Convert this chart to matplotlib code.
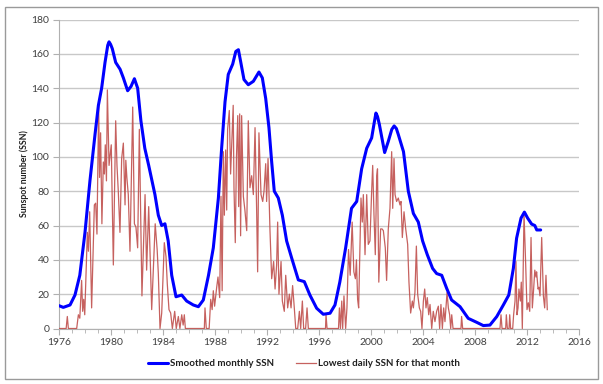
import matplotlib
matplotlib.use("Agg")
import matplotlib.pyplot as plt
from matplotlib.patches import Rectangle
from matplotlib.ticker import MultipleLocator

plt.rcParams['font.family'] = ['Lato', 'DejaVu Sans']

# Smoothed monthly SSN
smooth_years = [1976.0, 1976.33, 1976.85, 1977.23, 1977.6, 1978.0, 1978.38, 1978.77, 1979.03, 1979.28,
                1979.54, 1979.75, 1979.85, 1979.97, 1980.1, 1980.36, 1980.7, 1980.95, 1981.28, 1981.54,
                1981.8, 1982.05,
                1982.3, 1982.6, 1982.9, 1983.38, 1983.64, 1983.9, 1984.15, 1984.4, 1984.67, 1985.0,
                1985.44, 1985.82, 1986.33, 1986.72, 1987.1, 1987.5, 1987.87, 1988.26, 1988.51, 1988.77,
                1989.02, 1989.36, 1989.6, 1989.8, 1989.97, 1990.23, 1990.56, 1990.95, 1991.38, 1991.64,
                1991.9, 1992.15, 1992.36, 1992.56, 1992.87, 1993.18, 1993.51, 1993.9, 1994.41, 1994.87,
                1995.3, 1995.82, 1996.33, 1996.85, 1997.23, 1997.6, 1998.05, 1998.5, 1998.9, 1999.28,
                1999.67, 2000.05, 2000.25, 2000.38, 2000.5, 2000.64, 2001.05, 2001.33, 2001.6, 2001.78,
                2001.95, 2002.1, 2002.5, 2002.87,
                2003.26, 2003.64, 2003.97, 2004.33, 2004.74, 2005.05, 2005.44, 2005.82, 2006.2, 2006.85,
                2007.48, 2008.13, 2008.64, 2009.15, 2009.67, 2010.18, 2010.6, 2010.95, 2011.2, 2011.54,
                2011.8, 2012.05, 2012.36, 2012.6, 2012.75, 2013.05]
smooth_ssn = [13.3, 12.3, 13.7, 19.5, 31, 56, 86, 113, 130, 140,
              155, 165, 167, 165.5, 163, 155, 151, 146, 138.5, 141,
              145.5, 140,
              121, 105, 95, 78, 66, 60, 61, 51, 31, 18.5,
              19.5, 16, 13.7, 12.7, 16.6, 31, 47, 76, 105, 132,
              148, 154, 161.4, 162.4, 155.6, 145, 142, 144, 149.4, 146,
              134, 117, 97, 80, 76, 66, 51, 41, 28.3, 27.3,
              19.5, 11.8, 8.3, 8.9, 13.7, 27, 47, 70, 74, 93,
              105, 111, 120, 125.5, 123.5, 119, 102.5, 109, 116, 118,
              116.5, 113, 103, 80,
              67, 62, 51, 43, 35, 32, 31, 23.4, 16.6, 12.7,
              5.9, 3.6, 1.7, 2, 6.9, 13.7, 19.5, 35, 52.6, 64.3,
              67.8, 64.3, 60.8, 60, 57.4, 57.4]

# Lowest daily SSN for that month
low_years = [1976.0, 1976.55, 1976.64, 1976.72, 1977.36, 1977.49, 1977.6, 1977.74, 1977.82, 1977.9,
             1977.98, 1978.18, 1978.26, 1978.36, 1978.51, 1978.72, 1978.82, 1978.92, 1979.05, 1979.12,
             1979.2, 1979.3, 1979.41, 1979.49, 1979.56, 1979.65, 1979.72, 1979.85, 1979.93, 1980.02,
             1980.18, 1980.36, 1980.46, 1980.56, 1980.69, 1980.82, 1980.95, 1981.08, 1981.14, 1981.22,
             1981.33, 1981.46, 1981.59, 1981.67, 1981.8, 1981.92, 1982.05, 1982.18, 1982.3, 1982.38,
             1982.62, 1982.74, 1982.9, 1983.13, 1983.4, 1983.55, 1983.64, 1983.77, 1983.9, 1984.1,
             1984.23, 1984.33, 1984.46, 1984.59, 1984.72, 1984.9, 1985.02, 1985.18, 1985.3, 1985.44,
             1985.55, 1985.64, 1985.72, 1987.18, 1987.23, 1987.33, 1987.55, 1987.67, 1987.78, 1987.87,
             1987.97, 1988.13, 1988.23, 1988.36, 1988.46, 1988.55, 1988.64, 1988.72, 1988.82, 1988.9,
             1988.97, 1989.1, 1989.2, 1989.3, 1989.4, 1989.46, 1989.56, 1989.65, 1989.75, 1989.82,
             1989.9, 1989.97, 1990.05, 1990.18, 1990.3, 1990.44, 1990.56, 1990.69, 1990.82, 1990.95,
             1991.08, 1991.2, 1991.28, 1991.38, 1991.54, 1991.67, 1991.77, 1991.9, 1991.97, 1992.08,
             1992.23, 1992.36, 1992.51, 1992.62, 1992.74, 1992.82, 1992.92, 1993.08, 1993.18, 1993.33,
             1993.44, 1993.59, 1993.72, 1993.85, 1993.97, 1994.1, 1994.21, 1994.36, 1994.49, 1994.59,
             1994.72, 1994.82, 1994.97, 1995.08, 1995.18, 1996.5, 1996.54, 1996.62, 1997.5, 1997.57,
             1997.65, 1997.75, 1997.82, 1997.92, 1998.05, 1998.15, 1998.27, 1998.4, 1998.55, 1998.68,
             1998.8, 1998.88, 1998.97, 1999.05, 1999.15, 1999.23, 1999.33, 1999.41, 1999.54, 1999.67,
             1999.79, 1999.92, 2000.05, 2000.13, 2000.23, 2000.33, 2000.44, 2000.5, 2000.6, 2000.74,
             2000.85, 2000.95, 2001.1, 2001.2, 2001.33, 2001.46, 2001.59, 2001.67, 2001.77, 2001.85,
             2001.97, 2002.1, 2002.23, 2002.31, 2002.41, 2002.54, 2002.67, 2002.82, 2002.92, 2003.05,
             2003.18, 2003.26, 2003.38, 2003.49, 2003.59, 2003.72, 2003.82, 2003.92, 2004.03, 2004.13,
             2004.23, 2004.33, 2004.44, 2004.54, 2004.67, 2004.79, 2004.92, 2005.05, 2005.18, 2005.28,
             2005.38, 2005.49, 2005.59, 2005.69, 2005.85, 2005.95, 2006.05, 2006.13, 2006.21, 2006.31,
             2006.92, 2006.97, 2007.05, 2009.92, 2010.0, 2010.08, 2010.36, 2010.41, 2010.49, 2010.62,
             2010.67, 2010.74, 2010.9, 2010.97, 2011.08, 2011.15, 2011.23, 2011.31, 2011.38, 2011.49,
             2011.56, 2011.64, 2011.77, 2011.9, 2012.0, 2012.1, 2012.21, 2012.31, 2012.41, 2012.51,
             2012.6, 2012.69, 2012.74, 2012.85, 2012.92, 2013.0, 2013.13, 2013.26, 2013.36, 2013.46,
             2013.56]
low_ssn = [0, 0, 7, 0, 0, 8, 6, 28, 10, 17,
           8, 56, 45, 68, 12, 72, 73, 55, 130, 88,
           114, 61, 97, 90, 107, 86, 139, 95, 101, 107,
           37, 121, 95, 80, 56, 99, 108, 72, 98, 88,
           78, 45, 99, 129, 61, 59, 47, 116, 59, 19,
           78, 34, 71, 11, 61, 46, 32, 0, 9, 50,
           42, 26, 11, 9, 0, 10, 0, 7, 0, 8,
           2, 8, 0, 0, 12, 0, 0, 17, 11, 22,
           13, 24, 30, 18, 77, 22, 103, 66, 104, 69,
           116, 127, 90, 110, 130, 82, 50, 100, 124, 71,
           125, 54, 124, 77, 69, 57, 121, 82, 89, 78,
           117, 70, 33, 114, 78, 74, 80, 96, 74, 99,
           57, 29, 39, 23, 37, 62, 20, 39, 16, 10,
           31, 12, 20, 12, 25, 12, 0, 0, 10, 0,
           16, 0, 0, 12, 0, 0, 8, 0, 0, 12,
           0, 16, 0, 19, 0, 12, 46, 31, 62, 33,
           29, 40, 17, 12, 47, 76, 62, 78, 43, 78,
           49, 51, 80, 95, 66, 43, 89, 93, 27, 58,
           58, 57, 47, 28, 58, 70, 103, 70, 99, 78,
           74, 76, 72, 74, 53, 68, 58, 49, 27, 9,
           16, 12, 21, 48, 20, 12, 10, 0, 16, 23,
           12, 18, 8, 14, 0, 10, 4, 10, 13, 0,
           14, 0, 12, 4, 21, 12, 8, 0, 8, 0,
           0, 7, 0, 0, 8, 0, 0, 8, 0, 0,
           8, 0, 0, 8, 16, 39, 8, 12, 23, 16,
           27, 0, 67, 37, 11, 15, 10, 53, 12, 23,
           34, 30, 33, 23, 24, 19, 53, 19, 12, 31,
           11]

x_ticks = [1976, 1980, 1984, 1988, 1992, 1996, 2000, 2004, 2008, 2012, 2016]
y_ticks = [0, 20, 40, 60, 80, 100, 120, 140, 160, 180]

fig = plt.figure(figsize=(6.03, 3.84), dpi=100)
fig.patches.append(Rectangle((5/603, 1-379/384), 593/603, 372/384, transform=fig.transFigure,
                             fill=False, edgecolor='#9a9a9a', linewidth=1.0))
ax = fig.add_axes([59/603, 1-328.5/384, 520/603, 309/384])

ax.plot(low_years, low_ssn, color='#C0504D', linewidth=0.9, alpha=0.9,
        label='Lowest daily SSN for that month', zorder=3)
ax.plot(smooth_years, smooth_ssn, color='#0000FF', linewidth=2.2,
        label='Smoothed monthly SSN', zorder=4, solid_joinstyle='round', solid_capstyle='round')

ax.set_xlim(1976, 2016)
ax.set_ylim(0, 180)
ax.set_xticks(x_ticks)
ax.set_yticks(y_ticks)
ax.xaxis.set_minor_locator(MultipleLocator(1))
ax.grid(axis='y', color='#c8c8c8', linewidth=1.0)
ax.set_axisbelow(True)
for s in ['top', 'right']:
    ax.spines[s].set_visible(False)
for s in ['left', 'bottom']:
    ax.spines[s].set_color('#b0b0b0')
ax.tick_params(axis='both', which='both', colors='#b0b0b0', labelcolor='#404040', labelsize=7.5)
ax.tick_params(axis='x', which='major', length=4, pad=3)
ax.tick_params(axis='x', which='minor', length=3)
ax.tick_params(axis='y', length=4, pad=3)
ax.set_ylabel('Sunspot number (SSN)', fontsize=6.3, fontweight='bold', color='#202020')
ax.yaxis.set_label_coords(-0.057, 0.5)

h, l = ax.get_legend_handles_labels()
leg = fig.legend(h[::-1], l[::-1], loc='center', bbox_to_anchor=(304/603, 1-364/384), ncol=2,
                 frameon=False, handlelength=2.1, handletextpad=0.2, columnspacing=2.2,
                 prop={'weight': 'bold', 'size': 7.0})
for t in leg.get_texts():
    t.set_color('#202020')

fig.savefig('out.png', dpi=100)
